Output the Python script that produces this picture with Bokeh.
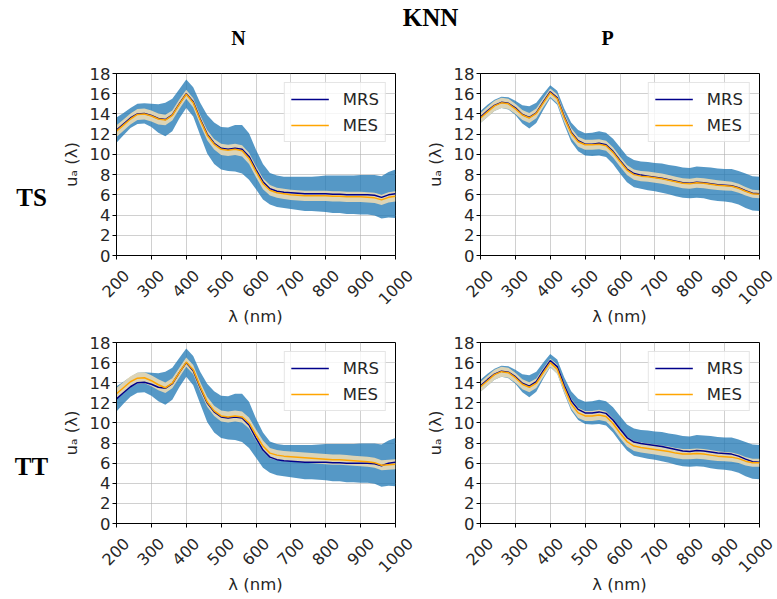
import math
import numpy as np
from bokeh.plotting import figure
from bokeh.models import Range1d, FixedTicker, Legend, LegendItem
from bokeh.layouts import column, row
from bokeh.core.properties import value
from bokeh.embed import file_html
from bokeh.resources import INLINE

# ---------------- data ----------------
wavelength = list(range(200, 1001, 20))
x_ticks = [200, 300, 400, 500, 600, 700, 800, 900, 1000]
x_tick_labels = ["200", "300", "400", "500", "600", "700", "800", "900", "1000"]
y_ticks = [0, 2, 4, 6, 8, 10, 12, 14, 16, 18]

n_mrs = [12.4, 13.0, 13.6, 14.0, 14.05, 13.85, 13.55, 13.45, 13.9, 15.0,
         16.0, 15.2, 13.5, 12.0, 11.1, 10.6, 10.5, 10.6, 10.5, 9.8,
         8.5, 7.3, 6.6, 6.35, 6.25, 6.2, 6.15, 6.1, 6.1, 6.1,
         6.1, 6.05, 6.05, 6.0, 6.0, 6.0, 6.0, 5.95, 5.75, 6.0, 6.1]
n_sd = [1.25, 1.1, 1.0, 1.0, 1.0, 1.15, 1.4, 1.65, 1.6, 1.45,
        1.4, 1.45, 1.6, 1.9, 2.05, 2.1, 2.15, 2.3, 2.4, 2.3,
        1.95, 1.75, 1.55, 1.55, 1.55, 1.6, 1.65, 1.7, 1.7, 1.75,
        1.8, 1.85, 1.85, 1.9, 1.9, 1.95, 1.95, 2.0, 2.1, 2.25, 2.4]
n_ts_mes = [12.3, 12.9, 13.5, 13.95, 14.0, 13.8, 13.5, 13.4, 13.85, 14.95,
            15.95, 15.1, 13.4, 11.9, 11.0, 10.5, 10.4, 10.5, 10.35, 9.6,
            8.3, 7.1, 6.45, 6.2, 6.1, 6.0, 5.95, 5.9, 5.9, 5.9,
            5.9, 5.85, 5.85, 5.8, 5.8, 5.8, 5.75, 5.7, 5.5, 5.75, 5.85]
n_tt_mes = [12.9, 13.5, 14.1, 14.45, 14.5, 14.2, 13.8, 13.5, 13.95, 15.0,
            16.05, 15.3, 13.6, 12.1, 11.2, 10.7, 10.6, 10.7, 10.6, 10.0,
            8.8, 7.7, 7.0, 6.8, 6.7, 6.65, 6.6, 6.55, 6.5, 6.45,
            6.4, 6.35, 6.35, 6.3, 6.25, 6.2, 6.15, 6.05, 5.8, 5.85, 5.9]
n_mes_sd = [0.58, 0.56, 0.55, 0.55, 0.55, 0.55, 0.55, 0.52, 0.5, 0.48,
            0.45, 0.46, 0.48, 0.5, 0.52, 0.55, 0.55, 0.55, 0.55, 0.55,
            0.55, 0.55, 0.52, 0.5, 0.5, 0.5, 0.5, 0.5, 0.5, 0.5,
            0.5, 0.5, 0.5, 0.5, 0.5, 0.5, 0.5, 0.5, 0.5, 0.5, 0.5]

p_mrs = [13.7, 14.3, 14.85, 15.15, 15.05, 14.6, 13.95, 13.65, 14.1, 15.2,
         16.2, 15.6, 13.75, 12.2, 11.35, 11.0, 11.0, 11.1, 10.95, 10.3,
         9.4, 8.55, 8.1, 7.95, 7.85, 7.75, 7.65, 7.5, 7.35, 7.2,
         7.15, 7.25, 7.2, 7.1, 7.0, 6.95, 6.9, 6.7, 6.4, 6.15, 6.1]
p_sd = [0.6, 0.6, 0.55, 0.55, 0.6, 0.7, 0.9, 1.1, 1.0, 0.8,
        0.65, 0.7, 0.8, 0.95, 1.05, 1.1, 1.15, 1.2, 1.2, 1.25,
        1.3, 1.3, 1.35, 1.35, 1.4, 1.4, 1.45, 1.45, 1.5, 1.5,
        1.5, 1.55, 1.55, 1.6, 1.6, 1.6, 1.65, 1.65, 1.7, 1.7, 1.7]
p_ts_mes = [13.6, 14.2, 14.8, 15.1, 15.0, 14.5, 13.9, 13.6, 14.05, 15.1,
            16.1, 15.5, 13.65, 12.1, 11.25, 10.95, 10.95, 11.0, 10.85, 10.2,
            9.3, 8.45, 8.0, 7.85, 7.8, 7.7, 7.6, 7.45, 7.3, 7.15,
            7.1, 7.2, 7.15, 7.05, 6.95, 6.9, 6.85, 6.65, 6.35, 6.1, 6.05]
p_tt_mes = [13.6, 14.2, 14.8, 15.1, 15.0, 14.5, 13.85, 13.55, 13.95, 15.0,
            16.0, 15.35, 13.5, 11.9, 11.0, 10.7, 10.7, 10.8, 10.65, 9.95,
            9.0, 8.15, 7.7, 7.55, 7.45, 7.35, 7.25, 7.15, 7.0, 6.9,
            6.9, 6.95, 6.9, 6.8, 6.7, 6.65, 6.6, 6.45, 6.2, 6.05, 6.05]
p_mes_sd = [0.5, 0.5, 0.5, 0.5, 0.5, 0.5, 0.5, 0.5, 0.48, 0.45,
            0.42, 0.45, 0.48, 0.5, 0.5, 0.5, 0.5, 0.5, 0.5, 0.5,
            0.5, 0.5, 0.5, 0.5, 0.5, 0.5, 0.5, 0.5, 0.5, 0.5,
            0.5, 0.5, 0.5, 0.5, 0.48, 0.46, 0.45, 0.44, 0.42, 0.4, 0.4]

series_labels = ["MRS", "MES"]
suptitle = "KNN"
col_titles = ["N", "P"]
row_titles = ["TS", "TT"]
x_label = "λ (nm)"
y_label = "uₐ (λ)"

# ---------------- styling / layout ----------------
SANS = "DejaVu Sans"
SERIF = "Liberation Serif"
FS = "16.5px"
TICK_FSN = 16.0
TICK_FS = "16px"
TXT = "#262626"
X_MIN, X_MAX, Y_MAX = 200, 1000, 18

PAGE_W = 777
HDR = 62          # header height
LABW = 58         # row-title column width
BL, BT, BB = 57, 11, 10
TL_W, TR_W = 364, 355
FRAME_W = 280
FRAME_H = [182, 181]
TICK_H = [66, 65]
PLOT_LEFT = [LABW + BL, LABW + TL_W + BL]   # page x of each column's frame


def make_panel(width, br, frame_h, mrs, mes, sd, msd):
    p = figure(width=width, height=BT + frame_h + BB, x_range=Range1d(X_MIN, X_MAX),
               y_range=Range1d(0, Y_MAX), output_backend="svg", toolbar_location=None,
               min_border_left=BL, min_border_right=br, min_border_top=BT,
               min_border_bottom=BB)
    x = np.array(wavelength, dtype=float)
    m = np.array(mrs); s = np.array(sd)
    e = np.array(mes); es = np.array(msd)
    p.varea(x=x, y1=m - s, y2=m + s, fill_color="#1f77b4", fill_alpha=0.76)
    p.varea(x=x, y1=e - es, y2=e + es, fill_color="#f5deb3", fill_alpha=0.85)
    r1 = p.line(x, m, line_color="#00008b", line_width=1.5)
    r2 = p.line(x, e, line_color="#ffa500", line_width=1.5)

    legend = Legend(items=[LegendItem(label=series_labels[0], renderers=[r1]),
                           LegendItem(label=series_labels[1], renderers=[r2])],
                    location="top_right")
    legend.label_text_font = SANS
    legend.label_text_font_size = FS
    legend.label_text_color = TXT
    legend.glyph_width = 38
    legend.glyph_height = 20
    legend.label_height = 20
    legend.label_standoff = 14
    legend.spacing = 6
    legend.padding = 6
    legend.margin = 9
    legend.border_line_color = "#cccccc"
    legend.border_line_width = 1
    legend.background_fill_alpha = 0.8
    p.add_layout(legend)

    p.xaxis.ticker = FixedTicker(ticks=x_ticks)
    p.yaxis.ticker = FixedTicker(ticks=y_ticks)
    p.xaxis.major_label_text_color = None   # drawn rotated & centred in the strip below
    for ax in (p.xaxis[0], p.yaxis[0]):
        ax.major_label_text_font = SANS
        ax.major_label_text_font_size = FS
        ax.axis_label_text_font = SANS
        ax.axis_label_text_font_size = FS
        ax.axis_label_text_font_style = "normal"
        ax.axis_label_text_color = TXT
        ax.major_tick_in = 0
        ax.major_tick_out = 4
        ax.minor_tick_out = 0
        ax.minor_tick_in = 0
        ax.axis_line_color = "black"
        ax.major_tick_line_color = "black"
        ax.major_label_standoff = 2
        ax.axis_label_standoff = 6
    p.yaxis.major_label_text_color = TXT
    p.yaxis.axis_label = y_label
    p.xgrid.grid_line_color = "#b0b0b0"
    p.ygrid.grid_line_color = "#b0b0b0"
    p.xgrid.grid_line_alpha = 0.6
    p.ygrid.grid_line_alpha = 0.6
    p.outline_line_color = "black"
    p.outline_line_alpha = 1
    p.background_fill_color = "white"
    return p


def blank_fig(width, height, y_top):
    f = figure(width=width, height=height, x_range=Range1d(0, width),
               y_range=Range1d(0, y_top), output_backend="svg", toolbar_location=None,
               min_border=0, x_axis_type=None, y_axis_type=None)
    f.grid.visible = False
    f.outline_line_color = None
    return f


def serif_text(f, x, y, t, size):
    f.text(x=[x], y=[y], text=[t], text_align="center", text_baseline="middle",
           text_font=value(SERIF), text_font_style="bold", text_font_size=size,
           text_color="black")


def tick_label_fig(height):
    """Full-width strip that holds the rotated x tick labels and x-axis titles,
    placed through x ranges that reproduce each panel column's x scale."""
    k = (X_MAX - X_MIN) / FRAME_W
    starts = [X_MIN - PLOT_LEFT[i] * k for i in range(2)]
    f = figure(width=PAGE_W, height=height,
               x_range=Range1d(starts[0], starts[0] + PAGE_W * k),
               y_range=Range1d(0, height), output_backend="svg", toolbar_location=None,
               min_border=0, x_axis_type=None, y_axis_type=None)
    f.extra_x_ranges = {"right": Range1d(starts[1], starts[1] + PAGE_W * k)}
    f.grid.visible = False
    f.outline_line_color = None
    top_gap = BB  # strip starts BB px below the axis line
    ys, halves = [], []
    for t in x_tick_labels:
        w = len(t) * 0.636 * TICK_FSN
        h = 0.73 * TICK_FSN
        off = 13 + (w + h) * 0.7071 / 2
        ys.append(height - (off - top_gap))
        halves.append((w + 1.17 * TICK_FSN) * 0.7071 / 2)
    xmid = (X_MIN + X_MAX) / 2
    for i, rn in enumerate(("default", "right")):
        xs = []
        for t, hw in zip(x_ticks, halves):
            px = PLOT_LEFT[i] + (t - X_MIN) / k
            over = max(0.0, px + hw - (PAGE_W - 1))   # keep the last label on the page
            xs.append(t - over * k)
        f.text(x=xs, y=ys, text=x_tick_labels, angle=math.pi / 4,
               text_align="center", text_baseline="middle", text_font=value(SANS),
               text_font_size=TICK_FS, text_color=TXT, x_range_name=rn)
        f.text(x=[xmid], y=[height - (61 - top_gap)], text=[x_label], text_align="center",
               text_baseline="middle", text_font=value(SANS), text_font_size=FS,
               text_color=TXT, x_range_name=rn)
    return f


header = blank_fig(PAGE_W, HDR, HDR)
serif_text(header, 430, HDR - 17, suptitle, "25px")
serif_text(header, 238, HDR - 37.5, col_titles[0], "20px")
serif_text(header, 607, HDR - 37.5, col_titles[1], "20px")

# row-title figures share their row's frame (Bokeh aligns frames in a row)
lab1 = blank_fig(LABW, BT + FRAME_H[0] + BB, FRAME_H[0])
serif_text(lab1, 31, 58.5, row_titles[0], "25px")
lab2 = blank_fig(LABW, BT + FRAME_H[1] + BB, FRAME_H[1])
serif_text(lab2, 31, 57, row_titles[1], "25px")

tl = make_panel(TL_W, TL_W - BL - FRAME_W, FRAME_H[0], n_mrs, n_ts_mes, n_sd, n_mes_sd)
tr = make_panel(TR_W, TR_W - BL - FRAME_W, FRAME_H[0], p_mrs, p_ts_mes, p_sd, p_mes_sd)
bl = make_panel(TL_W, TL_W - BL - FRAME_W, FRAME_H[1], n_mrs, n_tt_mes, n_sd, n_mes_sd)
br = make_panel(TR_W, TR_W - BL - FRAME_W, FRAME_H[1], p_mrs, p_tt_mes, p_sd, p_mes_sd)

ticks1 = tick_label_fig(TICK_H[0])
ticks2 = tick_label_fig(TICK_H[1])

layout = column(header, row(lab1, tl, tr), ticks1, row(lab2, bl, br), ticks2)

open("out.html", "w").write(file_html(layout, INLINE))
